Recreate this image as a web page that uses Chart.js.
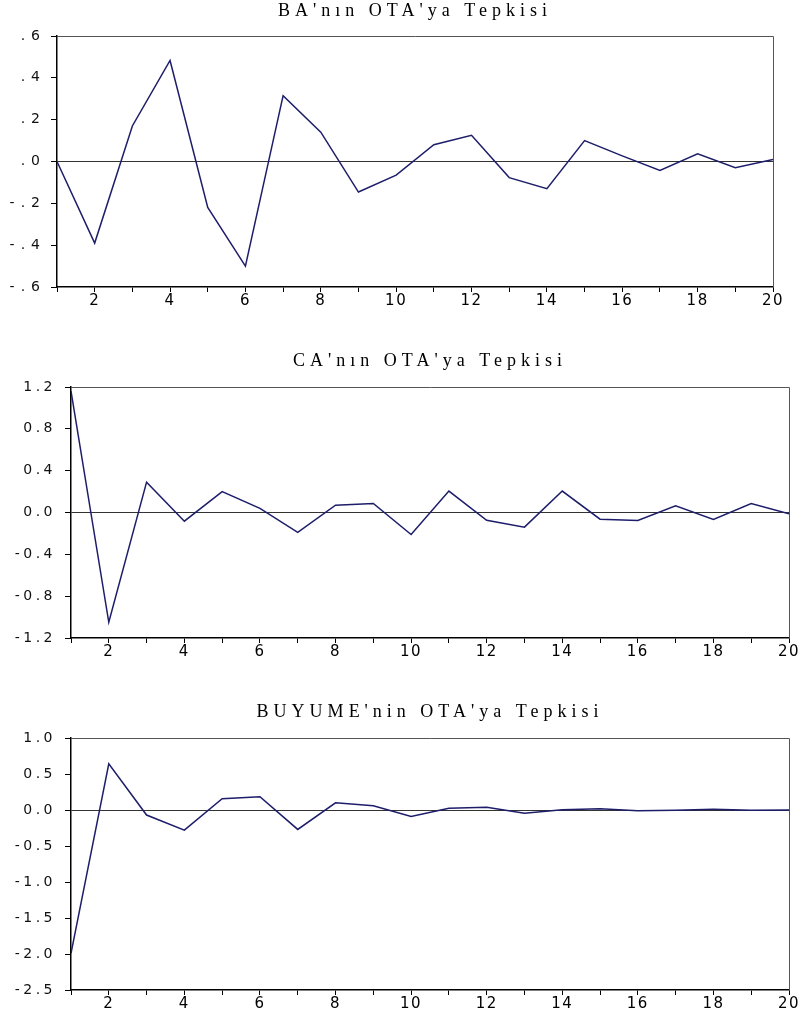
<!DOCTYPE html>
<html>
<head>
<meta charset="utf-8">
<script src="https://cdn.jsdelivr.net/npm/chart.js@4.4.0/dist/chart.umd.min.js"></script>
<style>
body { margin: 0; background: #fff; width: 802px; height: 1012px; overflow: hidden; position: relative; }
canvas { position: absolute; left: 0; }
</style>
</head>
<body>
<canvas id="c1" width="802" height="309" style="top:0px"></canvas>
<canvas id="c2" width="802" height="310" style="top:350px"></canvas>
<canvas id="c3" width="802" height="311" style="top:701px"></canvas>
<script>
// Dönemler ve tepki değerleri
const periods = [1, 2, 3, 4, 5, 6, 7, 8, 9, 10, 11, 12, 13, 14, 15, 16, 17, 18, 19, 20];
const xTickLabels = ['', '2', '', '4', '', '6', '', '8', '', '10', '', '12', '', '14', '', '16', '', '18', '', '20'];

const baValues = [0.0, -0.39, 0.17, 0.483, -0.22, -0.50, 0.315, 0.14, -0.146, -0.065,
  0.08, 0.125, -0.077, -0.13, 0.10, 0.027, -0.043, 0.037, -0.03, 0.01];
const caValues = [1.16, -1.05, 0.29, -0.083, 0.20, 0.04, -0.19, 0.07, 0.086, -0.21,
  0.205, -0.074, -0.14, 0.205, -0.064, -0.077, 0.064, -0.067, 0.086, -0.013];
const buyumeValues = [-1.99, 0.64, -0.07, -0.28, 0.157, 0.185, -0.27, 0.10, 0.06, -0.09,
  0.023, 0.037, -0.046, 0.005, 0.018, -0.01, -0.005, 0.01, -0.005, 0.0];

// y ekseni etiketleri (aşağıdan yukarı)
const baYLabels = ['-.6', '-.4', '-.2', '.0', '.2', '.4', '.6'];
const caYLabels = ['-1.2', '-0.8', '-0.4', '0.0', '0.4', '0.8', '1.2'];
const buyumeYLabels = ['-2.5', '-2.0', '-1.5', '-1.0', '-0.5', '0.0', '0.5', '1.0'];

// harf aralığı için çizim fonksiyonlarını sarmalama
function wrapSpacing(obj, fn, spacing) {
  if (!obj || obj['_sp_' + fn]) return;
  const orig = obj[fn];
  obj[fn] = function (...args) {
    const ctx = this.ctx;
    const prev = ctx.letterSpacing;
    ctx.letterSpacing = spacing;
    orig.apply(this, args);
    ctx.letterSpacing = prev;
  };
  obj['_sp_' + fn] = true;
}

// üst ve sağ çerçeve çizgileri
const framePlugin = {
  id: 'frame',
  afterDraw(chart) {
    const { ctx, chartArea: a } = chart;
    ctx.save();
    ctx.strokeStyle = '#555';
    ctx.lineWidth = 1;
    ctx.beginPath();
    ctx.moveTo(a.left, a.top + 0.5);
    ctx.lineTo(a.right + 0.5, a.top + 0.5);
    ctx.lineTo(a.right + 0.5, a.bottom);
    ctx.stroke();
    ctx.restore();
  }
};

function makeChart(id, title, values, yMin, yMax, yStep, yLabels, left, right, yPad, ySpacing, titleBottom) {
  const spacingPlugin = {
    id: 'spacing',
    afterLayout(chart) {
      wrapSpacing(chart.titleBlock, 'draw', '5px');
      wrapSpacing(chart.scales.y, 'drawLabels', ySpacing);
      wrapSpacing(chart.scales.x, 'drawLabels', '1.5px');
    }
  };
  return new Chart(document.getElementById(id), {
    type: 'line',
    data: {
      datasets: [{
        data: periods.map((p, i) => ({ x: p, y: values[i] })),
        borderColor: '#1d1d6a',
        borderWidth: 1.5,
        pointRadius: 0,
        tension: 0
      }]
    },
    options: {
      responsive: false,
      animation: false,
      devicePixelRatio: 1,
      layout: { padding: { left: 0, right: right, top: 0, bottom: 0 } },
      plugins: {
        legend: { display: false },
        tooltip: { enabled: false },
        title: {
          display: true,
          text: title,
          fullSize: false,
          color: '#000',
          font: { family: 'Liberation Serif', size: 18, weight: 'normal', lineHeight: 1.2 },
          padding: { top: 0, bottom: titleBottom }
        }
      },
      scales: {
        x: {
          type: 'linear',
          min: 1,
          max: 20,
          afterFit: (s) => { s.height = 22; },
          ticks: {
            stepSize: 1,
            autoSkip: false,
            maxRotation: 0,
            padding: 0,
            color: '#000',
            font: { family: 'DejaVu Sans', size: 15 },
            callback: (v, i) => xTickLabels[i]
          },
          grid: { drawOnChartArea: false, tickLength: 5, tickColor: '#000' },
          border: { color: '#000', width: 1.5 }
        },
        y: {
          min: yMin,
          max: yMax,
          afterFit: (s) => { s.width = left; },
          ticks: {
            stepSize: yStep,
            padding: yPad,
            color: '#111',
            font: { family: 'DejaVu Sans', size: 14 },
            callback: (v, i) => yLabels[i]
          },
          grid: {
            color: (c) => (c.tick && Math.abs(c.tick.value) < 1e-9 ? '#333' : 'rgba(0,0,0,0)'),
            lineWidth: 1,
            tickLength: 6,
            tickColor: '#000'
          },
          border: { color: '#000', width: 1.5 }
        }
      }
    },
    plugins: [spacingPlugin, framePlugin]
  });
}

makeChart('c1', "BA'nın OTA'ya Tepkisi", baValues, -0.6, 0.6, 0.2, baYLabels, 57, 29, 5, '6px', 14.4);
makeChart('c2', "CA'nın OTA'ya Tepkisi", caValues, -1.2, 1.2, 0.4, caYLabels, 71, 13, 9, '3.5px', 15.4);
makeChart('c3', "BUYUME'nin OTA'ya Tepkisi", buyumeValues, -2.5, 1.0, 0.5, buyumeYLabels, 71, 13, 9, '3.5px', 15.4);
</script>
</body>
</html>
